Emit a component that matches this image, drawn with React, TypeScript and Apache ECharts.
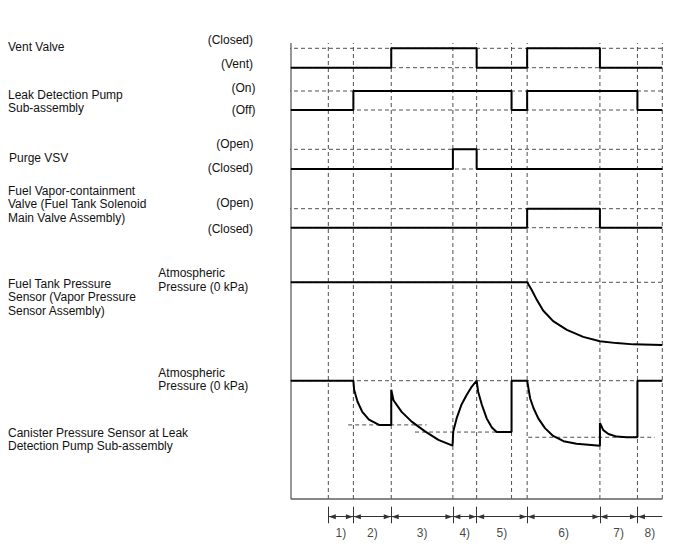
import React, { useEffect, useRef } from "react";
import * as echarts from "echarts";

// ---------- DATA ----------
// Time in arbitrary units: 0 = start of trace, 100 = end of trace
const gridTimes = [10.05, 16.8, 27.0, 43.6, 50.0, 59.4, 63.6, 83.2, 93.3, 100];
const phaseEdges = [10.05, 16.8, 27.0, 43.6, 50.0, 63.6, 83.2, 93.3, 100];
const phaseLabels = ["1)", "2)", "3)", "4)", "5)", "6)", "7)", "8)"];

const signalNames = [
  "Vent Valve",
  "Leak Detection Pump\nSub-assembly",
  "Purge VSV",
  "Fuel Vapor-containment\nValve (Fuel Tank Solenoid\nMain Valve Assembly)",
  "Fuel Tank Pressure\nSensor (Vapor Pressure\nSensor Assembly)",
  "Canister Pressure Sensor at Leak\nDetection Pump Sub-assembly",
];
const stateHighLabels = ["(Closed)", "(On)", "(Open)", "(Open)"];
const stateLowLabels = ["(Vent)", "(Off)", "(Closed)", "(Closed)"];
const pressureLabel = "Atmospheric\nPressure (0 kPa)";

// Digital signals: times of change and state after the change (0 = low, 1 = high)
const ventTimes = [0, 27.0, 50.0, 63.6, 83.2];
const ventStates = [0, 1, 0, 1, 0];
const pumpTimes = [0, 16.8, 59.4, 63.6, 93.3];
const pumpStates = [0, 1, 0, 1, 0];
const purgeTimes = [0, 43.6, 50.0];
const purgeStates = [0, 1, 0];
const fvcvTimes = [0, 63.6, 83.2];
const fvcvStates = [0, 1, 0];

// Analog signals: pressure relative to atmospheric (0), -1 = deepest vacuum shown
const tankTimes = [0, 63.6, 64.8, 66.2, 67.9, 70.6, 74.3, 78.7, 83.2, 87.7, 92.2, 100];
const tankPressure = [0, 0, -0.12, -0.28, -0.45, -0.62, -0.76, -0.87, -0.94, -0.97, -0.99, -1.0];

const canTimes = [
  0, 16.8, 17.0, 17.9, 19.2, 21.0, 23.7,
  27.0, 27.0, 27.6, 29.8, 32.5, 36.1, 39.7, 43.5,
  43.7, 44.6, 45.9, 47.3, 48.7, 50.0,
  50.4, 51.4, 52.7, 54.1, 55.4, 59.4, 59.4, 63.6,
  64.4, 65.3, 66.6, 68.4, 70.6, 73.4, 76.9, 83.2,
  83.2, 84.1, 85.5, 87.7, 90.4, 93.3, 93.3, 100,
];
const canPressure = [
  0, 0, -0.14, -0.32, -0.48, -0.6, -0.68,
  -0.68, -0.14, -0.3, -0.48, -0.63, -0.78, -0.91, -1.0,
  -0.78, -0.58, -0.37, -0.22, -0.09, 0,
  -0.17, -0.37, -0.58, -0.72, -0.79, -0.79, 0, 0,
  -0.27, -0.42, -0.58, -0.73, -0.85, -0.93, -0.97, -1.0,
  -0.65, -0.76, -0.82, -0.86, -0.87, -0.87, 0, 0,
];
// Reference-pressure dashed levels of the canister sensor
const canRefStart = [15.4, 33.4, 63.9];
const canRefEnd = [36.5, 59.4, 98.0];
const canRefLevel = [-0.68, -0.79, -0.87];

// ---------- LAYOUT ----------
const W = 688;
const H = 560;
const PLOT_LEFT = 291;
const PLOT_RIGHT = 662.3;
const PX_PER_UNIT = (PLOT_RIGHT - PLOT_LEFT) / 100;
const LEAD_T = -18 / PX_PER_UNIT; // dashed level lines start left of the axis
const TOP_V = 456; // top of plot frame (units above baseline)
// rows (units above the baseline, 1 unit = 1 px vertically)
const digitalRows = [
  { low: 431.3, high: 450.7 },
  { low: 389, high: 408 },
  { low: 330, high: 349.7 },
  { low: 271.3, high: 290.3 },
];
const tankRow = { atm: 216.7, depth: 62.7 };
const canRow = { atm: 118.3, depth: 65 };
const ARROW_V = -17.7;
const TICK_TOP = -7.7;
const TICK_BOT = -24.3;
const LABEL_V = -34.3;

const FONT = "'Liberation Sans', Arial, Helvetica, sans-serif";
const TEXT_COLOR = "#111";
const DASH_COLOR = "#505050";

function digitalPoints(times: number[], states: number[], row: { low: number; high: number }) {
  const lv = (s: number) => (s ? row.high : row.low);
  const pts: number[][] = [[times[0], lv(states[0])]];
  for (let i = 1; i < times.length; i++) {
    pts.push([times[i], lv(states[i - 1])]);
    pts.push([times[i], lv(states[i])]);
  }
  pts.push([100, lv(states[states.length - 1])]);
  return pts;
}

function analogPoints(times: number[], vals: number[], row: { atm: number; depth: number }) {
  return times.map((t, i) => [t, row.atm + vals[i] * row.depth]);
}

function lineSeries(data: number[][], lineStyle: any, z: number) {
  return {
    type: "line",
    data,
    symbol: "none",
    clip: false,
    silent: true,
    z,
    lineStyle,
    animation: false,
  };
}

export default function App() {
  const ref = useRef<HTMLDivElement>(null);

  useEffect(() => {
    if (!ref.current) return;
    const chart = echarts.init(ref.current, undefined, { renderer: "svg" });

    const dash = { color: DASH_COLOR, width: 1, type: [4, 3] };
    const solid = { color: "#000", width: 2, type: "solid" };

    const series: any[] = [];

    // vertical dashed time lines
    gridTimes.forEach((t) => series.push(lineSeries([[t, 0], [t, TOP_V]], dash, 1)));

    // horizontal dashed level lines
    const levels: number[] = [];
    digitalRows.forEach((r) => levels.push(r.high, r.low));
    levels.push(tankRow.atm, canRow.atm);
    levels.forEach((v) => series.push(lineSeries([[LEAD_T, v], [100, v]], dash, 1)));

    // canister reference levels
    canRefLevel.forEach((lv, i) =>
      series.push(
        lineSeries(
          [
            [canRefStart[i], canRow.atm + lv * canRow.depth],
            [canRefEnd[i], canRow.atm + lv * canRow.depth],
          ],
          dash,
          1
        )
      )
    );

    // frame + phase annotations (markLine)
    const arrowOff = 4 / PX_PER_UNIT;
    const mlData: any[] = [];
    phaseEdges.slice(0, -1).forEach((t) => {
      mlData.push([{ coord: [t, TICK_TOP] }, { coord: [t, TICK_BOT] }]);
    });
    for (let i = 0; i < phaseLabels.length; i++) {
      const a = phaseEdges[i];
      const b = phaseEdges[i + 1];
      const last = i === phaseLabels.length - 1;
      mlData.push([
        { coord: [a + arrowOff, ARROW_V], symbol: "triangle", symbolSize: [5, 7] },
        last
          ? { coord: [b, ARROW_V], symbol: "none" }
          : { coord: [b - arrowOff, ARROW_V], symbol: "triangle", symbolSize: [5, 7] },
      ]);
      mlData.push([{ coord: [a, ARROW_V] }, { coord: [a + arrowOff, ARROW_V] }]);
      if (!last) mlData.push([{ coord: [b - arrowOff, ARROW_V] }, { coord: [b, ARROW_V] }]);
    }

    series.push({
      ...lineSeries([[0, TOP_V], [0, 0], [100, 0]], { color: "#606060", width: 1.3, type: "solid" }, 2),
      markLine: {
        silent: true,
        animation: false,
        symbol: "none",
        label: { show: false },
        emphasis: { disabled: true },
        lineStyle: { color: "#333", width: 1, type: "solid" },
        itemStyle: { color: "#222" },
        data: mlData,
      },
    });

    // signals
    series.push(lineSeries(digitalPoints(ventTimes, ventStates, digitalRows[0]), solid, 10));
    series.push(lineSeries(digitalPoints(pumpTimes, pumpStates, digitalRows[1]), solid, 10));
    series.push(lineSeries(digitalPoints(purgeTimes, purgeStates, digitalRows[2]), solid, 10));
    series.push(lineSeries(digitalPoints(fvcvTimes, fvcvStates, digitalRows[3]), solid, 10));
    series.push(lineSeries(analogPoints(tankTimes, tankPressure, tankRow), solid, 10));
    series.push(lineSeries(analogPoints(canTimes, canPressure, canRow), solid, 10));

    // phase labels
    series.push({
      type: "scatter",
      silent: true,
      symbolSize: 1,
      itemStyle: { color: "rgba(0,0,0,0)" },
      animation: false,
      data: phaseLabels.map((l, i) => ({
        name: l,
        value: [(phaseEdges[i] + phaseEdges[i + 1]) / 2, LABEL_V],
      })),
      label: {
        show: true,
        position: "inside",
        formatter: (p: any) => p.name,
        color: TEXT_COLOR,
        fontSize: 12,
        fontFamily: FONT,
      },
    });

    const txt = (text: string, x: number, y: number, align: string) => ({
      type: "text",
      x,
      y,
      silent: true,
      style: {
        text,
        fill: TEXT_COLOR,
        fontSize: 12,
        fontFamily: FONT,
        align,
        verticalAlign: "middle",
        lineHeight: 13.5,
      },
    });

    const graphic = [
      txt(signalNames[0], 8, 47, "left"),
      txt(signalNames[1], 8, 101.7, "left"),
      txt(signalNames[2], 9, 157.7, "left"),
      txt(signalNames[3], 8, 204.2, "left"),
      txt(signalNames[4], 8, 297, "left"),
      txt(signalNames[5], 8, 439.7, "left"),
      txt(stateHighLabels[0], 253, 39.5, "right"),
      txt(stateLowLabels[0], 253, 63.5, "right"),
      txt(stateHighLabels[1], 255.5, 88, "right"),
      txt(stateLowLabels[1], 255.5, 110.2, "right"),
      txt(stateHighLabels[2], 253.5, 144, "right"),
      txt(stateLowLabels[2], 253, 168, "right"),
      txt(stateHighLabels[3], 253.5, 202.5, "right"),
      txt(stateLowLabels[3], 253, 229.2, "right"),
      txt(pressureLabel, 158.3, 280, "left"),
      txt(pressureLabel, 158.3, 379.5, "left"),
    ];

    chart.setOption({
      animation: false,
      backgroundColor: "#fff",
      grid: { left: PLOT_LEFT, right: W - PLOT_RIGHT, top: 0, bottom: 0, containLabel: false },
      xAxis: { type: "value", min: 0, max: 100, show: false },
      yAxis: { type: "value", min: -61, max: 499, show: false },
      series,
      graphic,
    });

    return () => chart.dispose();
  }, []);

  return (
    <div
      ref={ref}
      style={{ position: "fixed", left: 0, top: 0, width: W, height: H, background: "#fff" }}
    />
  );
}
